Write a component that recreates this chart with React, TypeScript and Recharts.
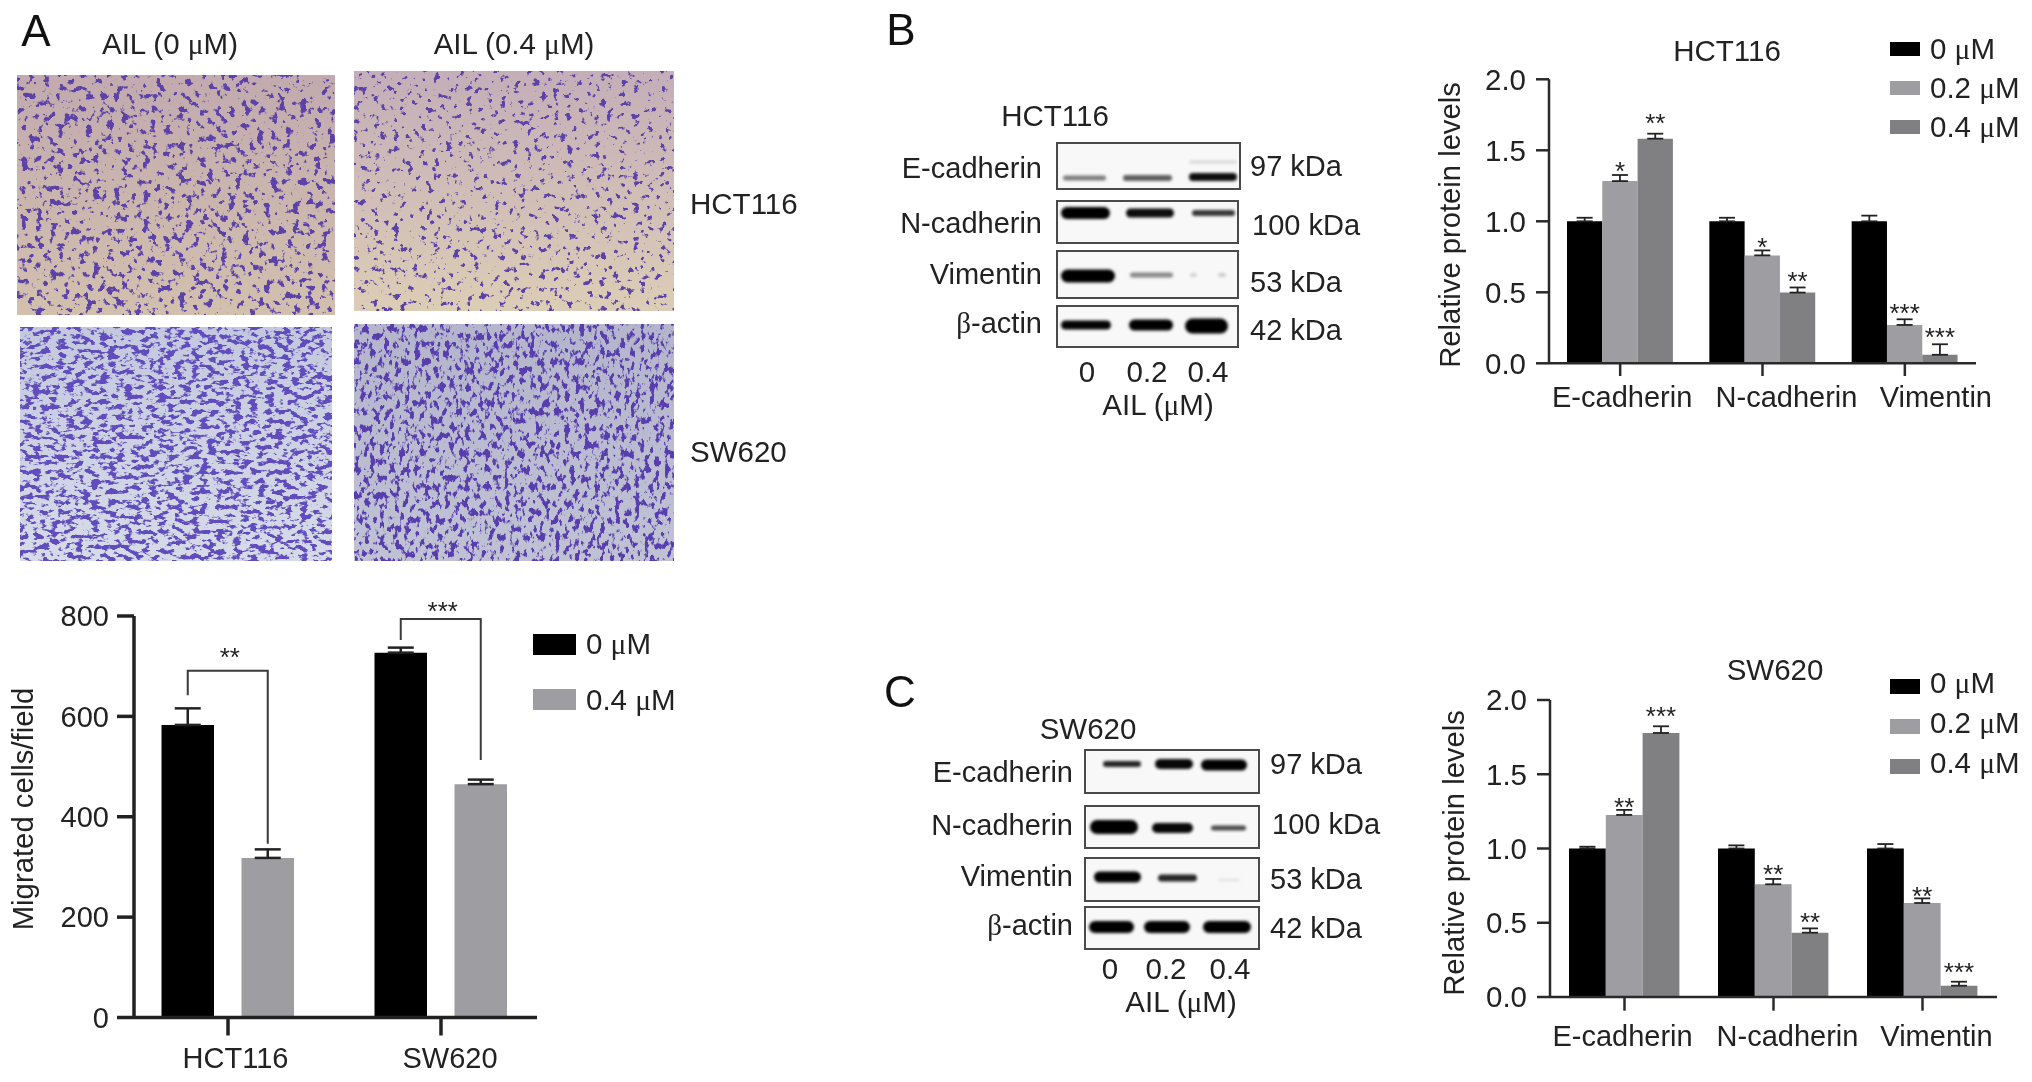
// Migration and EMT figure: three Recharts bar charts plus stand-ins for the photos and blots
import React from "react";
import { BarChart, Bar, XAxis, YAxis, ErrorBar, LabelList, Legend, Label } from "recharts";

const FONT = "'Liberation Sans', Arial, sans-serif";
const TEXT = "#222222";
const BLACK = "#000000";
const GREY = "#9d9da2";
const DARK_GREY = "#808083";

// ---- panel A chart data
const cellLines = ["HCT116", "SW620"];
const migrated0 = [583, 727];
const migrated04 = [318, 465];
const migratedErr0 = [33, 10];
const migratedErr04 = [17, 9];
const bracketTop = [691, 794];
const bracketLeftEnd = [642, 752];
const bracketRightEnd = [346, 513];
const bracketStars = ["**", "***"];
const bracketStarLift = [16.6, 11];
const migratedTicks = [0, 200, 400, 600, 800];

// ---- panels B and C chart data
const proteins = ["E-cadherin", "N-cadherin", "Vimentin"];
const proteinTicks = [0, 0.5, 1, 1.5, 2];
const doseNames = ["0 μM", "0.2 μM", "0.4 μM"];

const hct0 = [1, 1, 1];
const hct02 = [1.283, 0.76, 0.27];
const hct04 = [1.582, 0.498, 0.06];
const hctErr0 = [0.025, 0.025, 0.04];
const hctErr02 = [0.043, 0.035, 0.04];
const hctErr04 = [0.035, 0.036, 0.074];
const hctStars02 = ["*", "*", "***"];
const hctStars04 = ["**", "**", "***"];
const hctStarLevel02 = [1.373, 0.84, 0.376];
const hctStarLevel04 = [1.714, 0.599, 0.207];

const sw0 = [1, 1, 1];
const sw02 = [1.226, 0.759, 0.633];
const sw04 = [1.778, 0.433, 0.076];
const swErr0 = [0.012, 0.021, 0.03];
const swErr02 = [0.034, 0.036, 0.031];
const swErr04 = [0.045, 0.029, 0.027];
const swStars02 = ["**", "**", "**"];
const swStars04 = ["***", "**", "***"];
const swStarLevel02 = [1.3, 0.85, 0.698];
const swStarLevel04 = [1.91, 0.523, 0.186];

const buildProteinRows = (v0, v2, v4, e0, e2, e4) =>
  proteins.map((name, i) => ({
    name,
    v0: v0[i],
    v2: v2[i],
    v4: v4[i],
    e0: [0, e0[i]],
    e2: [0, e2[i]],
    e4: [0, e4[i]],
  }));

const migrationRows = cellLines.map((name, i) => ({
  name,
  v0: migrated0[i],
  v4: migrated04[i],
  e0: [0, migratedErr0[i]],
  e4: [0, migratedErr04[i]],
}));

// ---- image stand-ins (photos and blots are not chart data)
const photos = [
  { x: 17, y: 75, w: 318, h: 240, top: "#c2aaae", bottom: "#d2c0ae", filter: "cellsDense" },
  { x: 354, y: 71, w: 320, h: 240, top: "#c4aeb8", bottom: "#dccdb6", filter: "cellsSparse" },
  { x: 20, y: 327, w: 312, h: 234, top: "#c4c8de", bottom: "#d6dbe8", filter: "cellsLongDense" },
  { x: 354, y: 324, w: 320, h: 237, top: "#b4b4cc", bottom: "#c0c2d4", filter: "cellsLong" },
];

const blotB = [
  { box: [1057, 143, 183, 46], bands: [[1063, 1106, 178, 5, 0.5], [1123, 1172, 178, 6, 0.62], [1189, 1237, 177, 8, 0.95], [1189, 1237, 162, 4, 0.1]] },
  { box: [1057, 201, 181, 42], bands: [[1061, 1110, 213, 12, 1], [1126, 1174, 213, 9, 0.95], [1192, 1235, 213, 6, 0.78]] },
  { box: [1057, 251, 181, 47], bands: [[1061, 1115, 276, 13, 1], [1130, 1173, 275, 5, 0.45], [1190, 1197, 275, 4, 0.15], [1218, 1226, 275, 4, 0.18]] },
  { box: [1057, 306, 181, 41], bands: [[1061, 1111, 325, 9, 0.98], [1129, 1173, 325, 11, 1], [1185, 1228, 326, 15, 1]] },
];

const blotC = [
  { box: [1085, 750, 174, 43], bands: [[1103, 1141, 764, 6, 0.85], [1155, 1193, 764, 10, 0.97], [1201, 1247, 765, 11, 1]] },
  { box: [1085, 806, 174, 42], bands: [[1090, 1138, 827, 14, 1], [1152, 1193, 828, 10, 0.97], [1211, 1246, 828, 5, 0.7]] },
  { box: [1085, 858, 174, 43], bands: [[1094, 1141, 877, 11, 1], [1158, 1197, 878, 7, 0.85], [1218, 1240, 880, 2, 0.1]] },
  { box: [1085, 907, 174, 42], bands: [[1089, 1134, 927, 12, 1], [1144, 1190, 927, 12, 1], [1203, 1251, 927, 12, 1]] },
];

// plain text items drawn around the charts: [text, x, centre y, size, anchor]
const figureTexts = [
  ["A", 36, 31, 44, "middle"],
  ["B", 901, 30, 44, "middle"],
  ["C", 900, 692, 44, "middle"],
  ["AIL (0 μM)", 170, 44, 29.5, "middle"],
  ["AIL (0.4 μM)", 514, 44, 29.5, "middle"],
  ["HCT116", 690, 204, 29.5, "start"],
  ["SW620", 690, 452, 29.5, "start"],
  ["HCT116", 1055, 116, 29.5, "middle"],
  ["E-cadherin", 1042, 168, 29, "end"],
  ["N-cadherin", 1042, 223, 29, "end"],
  ["Vimentin", 1042, 274, 29, "end"],
  ["β-actin", 1042, 323, 29, "end"],
  ["97 kDa", 1250, 166, 29, "start"],
  ["100 kDa", 1252, 225, 29, "start"],
  ["53 kDa", 1250, 282, 29, "start"],
  ["42 kDa", 1250, 330, 29, "start"],
  ["0", 1087, 372, 29.5, "middle"],
  ["0.2", 1147, 372, 29.5, "middle"],
  ["0.4", 1208, 372, 29.5, "middle"],
  ["AIL (μM)", 1158, 405, 29.5, "middle"],
  ["HCT116", 1727, 51, 29.5, "middle"],
  ["SW620", 1088, 729, 29.5, "middle"],
  ["E-cadherin", 1073, 772, 29, "end"],
  ["N-cadherin", 1073, 825, 29, "end"],
  ["Vimentin", 1073, 876, 29, "end"],
  ["β-actin", 1073, 925, 29, "end"],
  ["97 kDa", 1270, 764, 29, "start"],
  ["100 kDa", 1272, 824, 29, "start"],
  ["53 kDa", 1270, 879, 29, "start"],
  ["42 kDa", 1270, 928, 29, "start"],
  ["0", 1110, 969, 29.5, "middle"],
  ["0.2", 1166, 969, 29.5, "middle"],
  ["0.4", 1230, 969, 29.5, "middle"],
  ["AIL (μM)", 1181, 1002, 29.5, "middle"],
  ["SW620", 1775, 670, 29.5, "middle"],
];

// the μ in the figure is a serif glyph
const withMu = (text) =>
  text.split(/([μβ])/).map((part, i) =>
    part === "μ" || part === "β" ? (
      <tspan key={i} fontFamily="'Liberation Serif', serif">{part}</tspan>
    ) : (
      part
    )
  );

function cellsFilter(id, freq, seed, gain, cut, color) {
  const [r, g, b] = color;
  return (
    <filter id={id} x="0" y="0" width="100%" height="100%" colorInterpolationFilters="sRGB">
      <feTurbulence type="fractalNoise" baseFrequency={freq} numOctaves={3} seed={seed} />
      <feColorMatrix values={`0 0 0 0 ${r}  0 0 0 0 ${g}  0 0 0 0 ${b}  ${gain} 0 0 0 ${cut}`} />
    </filter>
  );
}

function Blot({ rows, id }) {
  return (
    <g>
      {rows.map((row, i) => (
        <g key={i}>
          <rect x={row.box[0]} y={row.box[1]} width={row.box[2]} height={row.box[3]} fill="#f8f8f8" stroke="#4a4a4a" strokeWidth={2} />
          {row.bands.map(([x1, x2, cy, h, op], j) => (
            <rect key={j} x={x1} y={cy - h / 2} width={x2 - x1} height={h} rx={h / 2} fill="#000" opacity={op} filter={`url(#${id})`} />
          ))}
        </g>
      ))}
    </g>
  );
}

function Backdrop() {
  return (
    <svg width={2032} height={1082} style={{ position: "absolute", left: 0, top: 0 }}>
      <defs>
        <filter id="bandBlur" x="-20%" y="-80%" width="140%" height="260%">
          <feGaussianBlur stdDeviation="1.4" />
        </filter>
        {cellsFilter("cellsDense", "0.14", 3, 12, -6.9, [0.36, 0.26, 0.66])}
        {cellsFilter("cellsSparse", "0.15", 8, 12, -7.4, [0.36, 0.26, 0.66])}
        {cellsFilter("cellsLongDense", "0.12 0.2", 5, 10, -5.0, [0.38, 0.3, 0.74])}
        {cellsFilter("cellsLong", "0.2 0.12", 11, 10, -5.3, [0.34, 0.24, 0.68])}
        {photos.map((p, i) => (
          <linearGradient key={i} id={`photo${i}`} x1="0" y1="0" x2="0" y2="1">
            <stop offset="0" stopColor={p.top} />
            <stop offset="1" stopColor={p.bottom} />
          </linearGradient>
        ))}
      </defs>
      {photos.map((p, i) => (
        <g key={i}>
          <rect x={p.x} y={p.y} width={p.w} height={p.h} fill={`url(#photo${i})`} />
          <rect x={p.x} y={p.y} width={p.w} height={p.h} filter={`url(#${p.filter})`} />
        </g>
      ))}
      <Blot rows={blotB} id="bandBlur" />
      <Blot rows={blotC} id="bandBlur" />
      {figureTexts.map(([t, x, y, size, anchor], i) => (
        <text key={i} x={x} y={y + size * 0.35} fontSize={size} textAnchor={anchor} fontFamily={FONT} fill={size > 40 ? "#111" : TEXT}>
          {withMu(t)}
        </text>
      ))}
    </svg>
  );
}

const asterisk = (x, cy, text, size = 26) => (
  <text x={x} y={cy + size * 0.46} fontSize={size} textAnchor="middle" fontFamily={FONT} fill={TEXT}>
    {text}
  </text>
);

// star mark above a bar, at a level given in axis units
const starLabel = (stars, levels) => (props) => {
  const { x, y, width, height, value, index } = props;
  if (!stars || !stars[index]) return null;
  const perUnit = height / value;
  return <g key={index}>{asterisk(x + width / 2, y + height - levels[index] * perUnit, stars[index])}</g>;
};

// bracket from the 0 μM bar over to its 0.4 μM partner
const bracketLabel = (step) => (props) => {
  const { x, y, width, height, value, index } = props;
  const perUnit = height / value;
  const base = y + height;
  const left = x + width / 2;
  const right = left + step;
  const top = base - bracketTop[index] * perUnit;
  const d = `M${left} ${base - bracketLeftEnd[index] * perUnit}V${top}H${right}V${base - bracketRightEnd[index] * perUnit}`;
  return (
    <g key={index}>
      <path d={d} fill="none" stroke="#3a3a3a" strokeWidth={2} />
      {asterisk((left + right) / 2 + 2, top - bracketStarLift[index], bracketStars[index])}
    </g>
  );
};

const legendContent = (swatchX, swatchW, swatchH, textX, step, size, textLift = 0) => ({ payload }) => (
  <div style={{ position: "relative", fontFamily: FONT, fontSize: size, color: TEXT }}>
    {payload.map((item, i) => (
      <div key={item.value} style={{ position: "absolute", left: 0, top: i * step, whiteSpace: "nowrap" }}>
        <div style={{ position: "absolute", left: swatchX, top: 0, width: swatchW, height: swatchH, background: item.color }} />
        <div style={{ position: "absolute", left: textX, top: swatchH / 2 - size * 0.58 - textLift, lineHeight: 1.16 }}>
          {item.value.split("μ")[0]}
          <span style={{ fontFamily: "'Liberation Serif', serif" }}>μ</span>
          {item.value.split("μ")[1]}
        </div>
      </div>
    ))}
  </div>
);

const xTick = (shifts, drop, size) => ({ x, y, payload, index }) => (
  <text x={x + shifts[index]} y={y + drop} fontSize={size} textAnchor="middle" fontFamily={FONT} fill={TEXT}>
    {payload.value}
  </text>
);

function MigrationChart() {
  return (
    <div style={{ position: "absolute", left: 0, top: 590 }}>
      <BarChart
        width={700}
        height={492}
        data={migrationRows}
        margin={{ left: 34, top: 26, right: 163, bottom: 34.5 }}
        barSize={52.5}
        barGap={27.5}
      >
        <XAxis
          dataKey="name"
          padding={{ left: -12.5, right: -10.5 }}
          axisLine={{ stroke: "#222", strokeWidth: 3.5 }}
          tickLine={{ stroke: "#222", strokeWidth: 3.5 }}
          tickSize={18}
          tickMargin={0}
          interval={0}
          tick={xTick([7.5, 9], 32.5, 29)}
        />
        <YAxis
          width={100}
          domain={[0, 800]}
          ticks={migratedTicks}
          axisLine={{ stroke: "#222", strokeWidth: 3.5 }}
          tickLine={{ stroke: "#222", strokeWidth: 3.5 }}
          tickSize={17}
          tickMargin={8}
          tick={{ fontSize: 29, fill: TEXT, fontFamily: FONT }}
        >
          <Label
            content={() => (
              <text transform="translate(33 219) rotate(-90)" textAnchor="middle" fontSize={29.3} fontFamily={FONT} fill={TEXT}>
                Migrated cells/field
              </text>
            )}
          />
        </YAxis>
        <Legend
          layout="vertical"
          align="center"
          verticalAlign="middle"
          wrapperStyle={{ left: 0, top: 43.7, width: 0, height: 0 }}
          content={legendContent(533, 43, 21, 586, 55.5, 29.5)}
        />
        <Bar dataKey="v0" name="0 μM" fill={BLACK} isAnimationActive={false}>
          <ErrorBar dataKey="e0" direction="y" width={13} stroke="#222" strokeWidth={2.5} isAnimationActive={false} />
          <LabelList dataKey="v0" content={bracketLabel(80)} />
        </Bar>
        <Bar dataKey="v4" name="0.4 μM" fill={GREY} isAnimationActive={false}>
          <ErrorBar dataKey="e4" direction="y" width={13} stroke="#222" strokeWidth={2.5} isAnimationActive={false} />
        </Bar>
      </BarChart>
    </div>
  );
}

function ProteinChart({ left, top, width, height, margin, rows, barSize, shifts, drop, tickSize, label, legend, stars02, stars04, levels02, levels04 }) {
  return (
    <div style={{ position: "absolute", left, top }}>
      <BarChart width={width} height={height} data={rows} margin={margin} barSize={barSize} barGap={0}>
        <XAxis
          dataKey="name"
          axisLine={{ stroke: "#2a2a2a", strokeWidth: 2.5 }}
          tickLine={{ stroke: "#2a2a2a", strokeWidth: 2.5 }}
          tickSize={tickSize}
          tickMargin={0}
          interval={0}
          tick={xTick(shifts, drop, 29)}
        />
        <YAxis
          width={100}
          domain={[0, 2]}
          ticks={proteinTicks}
          tickFormatter={(v) => v.toFixed(1)}
          axisLine={{ stroke: "#2a2a2a", strokeWidth: 2.5 }}
          tickLine={{ stroke: "#2a2a2a", strokeWidth: 2.5 }}
          tickSize={13}
          tickMargin={10}
          tick={{ fontSize: 29.5, fill: TEXT, fontFamily: FONT }}
        >
          <Label
            content={() => (
              <text transform={`translate(${label[0]} ${label[1]}) rotate(-90)`} textAnchor="middle" fontSize={29.2} fontFamily={FONT} fill={TEXT}>
                Relative protein levels
              </text>
            )}
          />
        </YAxis>
        <Legend
          layout="vertical"
          align="center"
          verticalAlign="middle"
          wrapperStyle={{ left: 0, top: legend.top, width: 0, height: 0 }}
          content={legendContent(legend.x, 30, 14.5, legend.textX, legend.step, 29.5, legend.textLift)}
        />
        <Bar dataKey="v0" name={doseNames[0]} fill={BLACK} isAnimationActive={false}>
          <ErrorBar dataKey="e0" direction="y" width={8} stroke="#222" strokeWidth={1.8} isAnimationActive={false} />
        </Bar>
        <Bar dataKey="v2" name={doseNames[1]} fill={GREY} isAnimationActive={false}>
          <ErrorBar dataKey="e2" direction="y" width={8} stroke="#222" strokeWidth={1.8} isAnimationActive={false} />
          <LabelList dataKey="v2" content={starLabel(stars02, levels02)} />
        </Bar>
        <Bar dataKey="v4" name={doseNames[2]} fill={DARK_GREY} isAnimationActive={false}>
          <ErrorBar dataKey="e4" direction="y" width={8} stroke="#222" strokeWidth={1.8} isAnimationActive={false} />
          <LabelList dataKey="v4" content={starLabel(stars04, levels04)} />
        </Bar>
      </BarChart>
    </div>
  );
}

export default function App() {
  return (
    <div style={{ position: "absolute", left: 0, top: 0, width: 2032, height: 1082, background: "#fff", overflow: "hidden", filter: "blur(0.6px)" }}>
      <Backdrop />
      <MigrationChart />
      <ProteinChart
        left={1400}
        top={20}
        width={632}
        height={400}
        margin={{ left: 49, top: 59.3, right: 56, bottom: 26.7 }}
        rows={buildProteinRows(hct0, hct02, hct04, hctErr0, hctErr02, hctErr04)}
        barSize={35.3}
        shifts={[2, 24, 31]}
        drop={31}
        tickSize={12.7}
        label={[60, 205]}
        legend={{ x: 490, textX: 530, top: 21.7, step: 39, textLift: 0 }}
        stars02={hctStars02}
        stars04={hctStars04}
        levels02={hctStarLevel02}
        levels04={hctStarLevel04}
      />
      <ProteinChart
        left={1400}
        top={640}
        width={632}
        height={442}
        margin={{ left: 50, top: 60, right: 35, bottom: 55 }}
        rows={buildProteinRows(sw0, sw02, sw04, swErr0, swErr02, swErr04)}
        barSize={36.8}
        shifts={[-2, 14, 14]}
        drop={35}
        tickSize={13.7}
        label={[64, 213]}
        legend={{ x: 489.5, textX: 530, top: 39.3, step: 40, textLift: 3 }}
        stars02={swStars02}
        stars04={swStars04}
        levels02={swStarLevel02}
        levels04={swStarLevel04}
      />
    </div>
  );
}
